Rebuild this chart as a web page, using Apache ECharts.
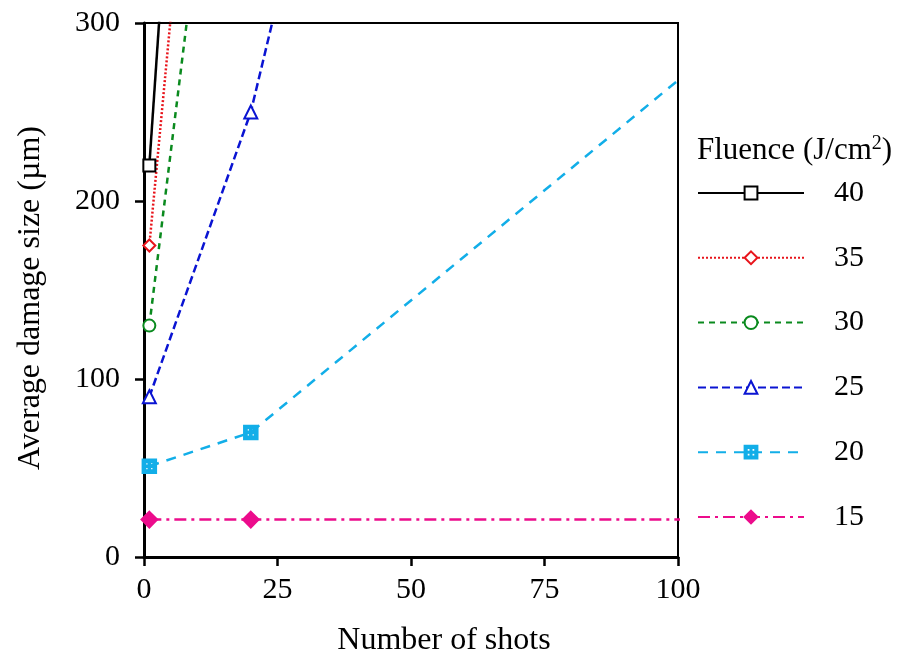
<!DOCTYPE html>
<html>
<head>
<meta charset="utf-8">
<script src="https://cdn.jsdelivr.net/npm/echarts@6/dist/echarts.min.js"></script>
<style>
  html, body { margin: 0; padding: 0; background: #fff; }
  #chart { width: 901px; height: 658px; }
</style>
</head>
<body>
<div id="chart"></div>
<script>
// fluence levels (J/cm2)
var fluences = ["40", "35", "30", "25", "20", "15"];
// number of shots / average damage size (um) per fluence
var shots40 = [1, 20];       var size40 = [220, 1056];
var shots35 = [1, 20];       var size35 = [175, 783];
var shots30 = [1, 20];       var size30 = [130, 592];
var shots25 = [1, 20, 100];  var size25 = [90, 250, 1250];
var shots20 = [1, 20, 200];  var size20 = [51, 70, 515];
var shots15 = [1, 20, 200];  var size15 = [21, 21, 21];
var xTicks = [0, 25, 50, 75, 100];
var yTicks = [0, 100, 200, 300];

var FONT = "Liberation Serif";

function pairs(xs, ys) {
  return xs.map(function (x, i) { return [x, ys[i]]; });
}

// square with cross (four holes)
var crossSquare = "path://M0,0L12,0L12,12L0,12Z" +
  "M2,2L2,5.5L5.5,5.5L5.5,2Z M6.5,2L6.5,5.5L10,5.5L10,2Z" +
  "M2,6.5L2,10L5.5,10L5.5,6.5Z M6.5,6.5L6.5,10L10,10L10,6.5Z";

var styles = [
  { color: "#000000", symbol: "emptyRect", size: 12, dash: "solid" },
  { color: "#e8141b", symbol: "emptyDiamond", size: 12, dash: [2, 2] },
  { color: "#0a8a1e", symbol: "emptyCircle", size: 12, dash: [6, 5] },
  { color: "#0a14d2", symbol: "emptyTriangle", size: 13, dash: [8, 4] },
  { color: "#12aee8", symbol: crossSquare, size: 13, dash: [10, 8] },
  { color: "#ec0c8c", symbol: "diamond", size: 15, dash: [12, 5, 3, 5] }
];
var allData = [
  pairs(shots40, size40), pairs(shots35, size35), pairs(shots30, size30),
  pairs(shots25, size25), pairs(shots20, size20), pairs(shots15, size15)
];

var series = fluences.map(function (name, i) {
  var s = styles[i];
  return {
    name: name,
    type: "line",
    data: allData[i],
    clip: true,
    symbol: s.symbol,
    symbolSize: s.size,
    showAllSymbol: true,
    z: 10 - i,
    lineStyle: { color: s.color, width: 2.5, type: s.dash },
    itemStyle: { color: s.color, borderColor: s.color, borderWidth: 2.5 }
  };
});

var myChart = echarts.init(document.getElementById("chart"));
myChart.setOption({
  animation: false,
  backgroundColor: "#fff",
  grid: {
    left: 144, top: 23, right: 223, bottom: 101,
    outerBoundsMode: "none",
    show: true, borderColor: "#000", borderWidth: 2, backgroundColor: "transparent"
  },
  xAxis: {
    type: "value",
    min: xTicks[0], max: xTicks[xTicks.length - 1], interval: 25,
    name: "Number of shots",
    nameLocation: "middle",
    nameGap: 68,
    nameTextStyle: { fontFamily: FONT, fontSize: 32, color: "#000", padding: [0, 0, 0, 66] },
    axisLine: { lineStyle: { color: "#000", width: 3 } },
    axisTick: { show: true, length: 9, lineStyle: { color: "#000", width: 2.5 } },
    axisLabel: { fontFamily: FONT, fontSize: 30, color: "#000", margin: 18 },
    splitLine: { show: false }
  },
  yAxis: {
    type: "value",
    min: yTicks[0], max: yTicks[yTicks.length - 1], interval: 100,
    name: "Average damage size (\u00b5m)",
    nameLocation: "middle",
    nameGap: 97,
    nameTextStyle: { fontFamily: FONT, fontSize: 32, color: "#000", padding: [0, 16, 0, 0] },
    axisLine: { lineStyle: { color: "#000", width: 3 } },
    axisTick: { show: true, length: 9, lineStyle: { color: "#000", width: 2.5 } },
    axisLabel: { fontFamily: FONT, fontSize: 30, color: "#000", margin: 24 },
    splitLine: { show: false }
  },
  legend: {
    orient: "vertical",
    left: 697,
    top: 178,
    padding: 0,
    itemWidth: 106,
    itemHeight: 16,
    itemGap: 34.8,
    textStyle: { fontFamily: FONT, fontSize: 30, color: "#000", padding: [0, 0, 0, 25] },
    data: fluences
  },
  graphic: [{
    type: "text",
    left: 697,
    top: 134,
    style: {
      text: "Fluence (J/cm{sup|2})",
      rich: { sup: { fontFamily: FONT, fontSize: 20, verticalAlign: "top", padding: [0, 0, 14, 0] } },
      fontFamily: FONT, fontSize: 31, fill: "#000"
    }
  }],
  series: series
});
</script>
</body>
</html>
